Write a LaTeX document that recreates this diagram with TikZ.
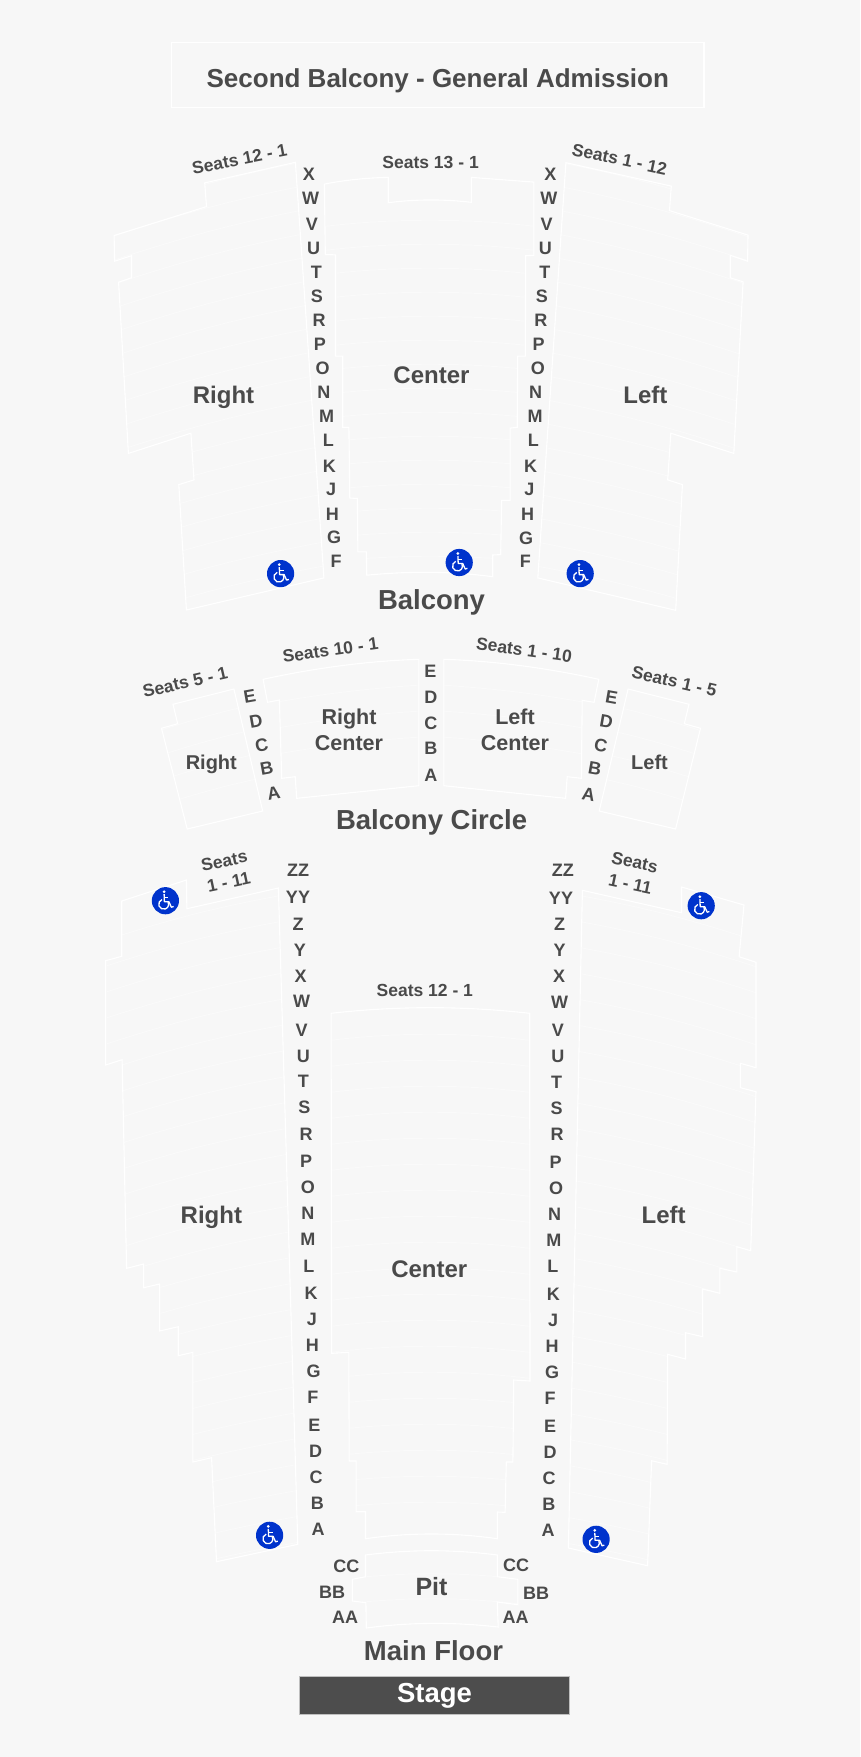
\documentclass[tikz,border=0pt]{standalone}
\usepackage{fontspec}
\setmainfont{Liberation Sans}

\definecolor{pagebg}{HTML}{F7F7F7}
\definecolor{rowcol}{HTML}{FAFAFA}
\definecolor{inkcol}{HTML}{4A4A4A}
\definecolor{stagecol}{HTML}{4D4D4D}
\definecolor{accesscol}{HTML}{0033CC}

\tikzset{
  section/.style={draw=white,line width=1.1pt,line join=miter},
  rowline/.style={draw=rowcol,line width=.9pt},
  rowlabel/.style={text=inkcol,inner sep=0pt,font=\bfseries\fontsize{18}{21}\selectfont},
  seatlabel/.style={text=inkcol,inner sep=0pt,align=center,font=\bfseries\fontsize{17.5}{22}\selectfont},
  arealabel/.style={text=inkcol,inner sep=0pt,font=\bfseries\fontsize{24}{28}\selectfont},
  circlelabel/.style={text=inkcol,inner sep=0pt,align=center,font=\bfseries\fontsize{21.5}{26}\selectfont},
  levellabel/.style={text=inkcol,inner sep=0pt,font=\bfseries\fontsize{27.5}{32}\selectfont},
  access/.pic={
    \fill[accesscol] (0,0) circle (13.6);
    \fill[white] (-1.3,-9) circle (1.5);
    \draw[white,line width=1.3pt,line join=round]
      (-1.3,-6.5) -- (-1,1) -- (3.5,1) -- (6,6.5) -- (8.2,5.8);
    \draw[white,line width=1.2pt] (-1.2,-3) -- (3,-3);
    \draw[white,line width=1.3pt] (-3.4,-1.2) arc[start angle=250,end angle=-30,radius=5];
  }
}

% section outlines
\newcommand\bRight{(295.4,162.3) -- (204.7,182.9) -- (206.5,206.6) -- (114.1,235.5) -- (114.6,261.2) -- (131.5,255.7) -- (131.5,277.8) -- (118.6,282.2) -- (128.4,453.4) -- (190.9,433.2) -- (194,479.9) -- (178.8,484.6) -- (186.4,610) -- (323.9,577.9) -- cycle}
\newcommand\bLeft{(565.9,162.7) -- (671.3,186.1) -- (669.5,210.6) -- (748,235.1) -- (747.6,261.2) -- (730.2,255.3) -- (730.2,277.8) -- (743.1,281.8) -- (733.8,453.4) -- (670.8,433.2) -- (667.7,479.9) -- (682.4,484.6) -- (675.7,610.3) -- (537.8,577.9) -- cycle}
\newcommand\bCenter{(324.4,184.1) .. controls (345,180) and (367,177.8) .. (388.2,177.4) -- (388.2,202.7) .. controls (416,199.1) and (443.6,199.1) .. (471.3,202.3) -- (471.3,177.4) -- (533.8,182.1) -- (533.8,255.3) -- (525.7,255.7) -- (525.3,356.1) -- (517.7,356.1) -- (517.2,427.3) -- (510.1,428.1) -- (510.1,500.4) -- (501.6,500.4) -- (500.7,554.6) -- (492.7,555) -- (492.7,576.7) .. controls (450.7,571.1) and (408.8,571.1) .. (366.8,575.2) -- (366.3,551.8) -- (357.9,551.8) -- (357.4,498.5) -- (349.8,498) -- (348.9,427.3) -- (342.7,427.3) -- (342.7,356.1) -- (335.5,356.1) -- (335.5,254.9) -- (325.3,254.5) -- cycle}
\newcommand\cRight{(233.9,689) -- (173,704.3) -- (177.7,723.7) -- (161.5,728.3) -- (187.2,829) -- (262.7,811) -- cycle}
\newcommand\cRightCenter{(263.1,679.3) .. controls (315,668) and (367,661) .. (418.9,659.3) -- (418.9,785.7) -- (296.7,798.3) -- (295.2,776.7) -- (281.7,778.3) -- (279.4,700) -- (267.5,702.3) -- cycle}
\newcommand\cLeftCenter{(443.8,659.3) .. controls (495.5,661) and (547,668) .. (598.8,679.3) -- (594.1,702.3) -- (582.2,700.3) -- (581.4,778.3) -- (567.2,776.7) -- (565.6,798.3) -- (443.8,785.7) -- cycle}
\newcommand\cLeft{(628.1,689) -- (689,704.3) -- (684.3,723.7) -- (700.5,728.3) -- (675.6,829) -- (599.2,811) -- cycle}
\newcommand\mRight{(278.4,888) -- (186.9,908.7) -- (186.4,880) -- (121.7,901) -- (121.7,956.3) -- (105.6,960.7) -- (105.6,1065) -- (122.1,1059.7) -- (126.6,1268.3) -- (143.6,1264) -- (143.6,1287.7) -- (159.6,1284) -- (159.6,1331) -- (178.2,1326.7) -- (178.2,1355.7) -- (192.9,1352.3) -- (192.9,1462) -- (211.6,1457.7) -- (216.5,1561.7) -- (297.8,1544.3) -- cycle}
\newcommand\mLeft{(582.4,890.3) -- (681.5,912.7) -- (681.5,887) -- (744,905) -- (739.1,956.7) -- (756,962.3) -- (756,1067.7) -- (740.4,1063.3) -- (740.4,1087.7) -- (756,1091.7) -- (750.7,1250.7) -- (736.9,1246.7) -- (736.9,1272) -- (719.9,1268.3) -- (719.9,1293.3) -- (702.5,1289) -- (702.7,1336.7) -- (685.5,1332.7) -- (685.5,1359) -- (667.6,1354.3) -- (667.1,1464.3) -- (651.6,1460.7) -- (647.6,1565.7) -- (568.4,1548) -- cycle}
\newcommand\mCenter{(331.1,1013.3) .. controls (397,1005.8) and (463,1005.8) .. (529.7,1013.3) -- (530,1381) -- (513.7,1380) -- (512.9,1462) -- (506.3,1462) -- (505.1,1512.3) -- (497.3,1512) -- (497.3,1538.7) .. controls (453.5,1532.4) and (409.5,1532.4) .. (365.5,1538.7) -- (365.5,1511.7) -- (356.1,1511.7) -- (356.1,1461) -- (349.2,1461) -- (348.8,1352.3) -- (331.6,1353.3) -- cycle}
\newcommand\mPit{(365.5,1555) .. controls (409.5,1549.3) and (453.5,1549.3) .. (497.3,1555) -- (497.3,1576.7) -- (517.8,1579.3) -- (517.8,1604.7) -- (497.3,1602) -- (498.2,1627) .. controls (454,1622) and (410.5,1622) .. (366.3,1628) -- (365.9,1602.7) -- (352.4,1601) -- (352.4,1579.3) -- (365.5,1576.7) -- cycle}

\begin{document}
\begin{tikzpicture}[x=1pt,y=-1pt]

        \useasboundingbox (0,0) rectangle (860,1757);
        \fill[pagebg] (0,0) rectangle (860,1757);

        % rows, barely lighter than the page
        \begin{scope}
          \clip \bRight;
          \foreach \y in {215,239,263,287,311,335,359,383,407,431,455,479,503,527,551,575,599,623}
            \draw[rowline] (105,\y) to[bend left=4] (340,\y-60);
        \end{scope}
        \begin{scope}
          \clip \bLeft;
          \foreach \y in {215,239,263,287,311,335,359,383,407,431,455,479,503,527,551,575,599,623}
            \draw[rowline] (755,\y) to[bend right=4] (520,\y-60);
        \end{scope}
        \begin{scope}
          \clip \bCenter;
          \foreach \y in {227,251,275,299,323,347,371,395,419,443,467,491,515,539,563}
            \draw[rowline] (320,\y) .. controls (390,\y-9) and (470,\y-9) .. (540,\y);
        \end{scope}
        \begin{scope}
          \clip \cRight;
          \foreach \y in {732,757,782,807}
            \draw[rowline] (155,\y) to[bend left=3] (275,\y-32);
        \end{scope}
        \begin{scope}
          \clip \cLeft;
          \foreach \y in {732,757,782,807}
            \draw[rowline] (705,\y) to[bend right=3] (585,\y-32);
        \end{scope}
        \begin{scope}
          \clip \cRightCenter;
          \foreach \y in {705,731,757}
            \draw[rowline] (260,\y) to[bend left=3] (420,\y-20);
        \end{scope}
        \begin{scope}
          \clip \cLeftCenter;
          \foreach \y in {705,731,757}
            \draw[rowline] (600,\y) to[bend right=3] (442,\y-20);
        \end{scope}
        \begin{scope}
          \clip \mRight;
          \foreach \y in {942,968,994,1020,1046,1072,1098,1124,1150,1176,1202,1228,1254,1280,1306,1332,1358,1384,1410,1436,1462,1488,1514,1540,1566,1592}
            \draw[rowline] (100,\y) to[bend left=4] (300,\y-50);
        \end{scope}
        \begin{scope}
          \clip \mLeft;
          \foreach \y in {942,968,994,1020,1046,1072,1098,1124,1150,1176,1202,1228,1254,1280,1306,1332,1358,1384,1410,1436,1462,1488,1514,1540,1566,1592}
            \draw[rowline] (760,\y) to[bend right=4] (560,\y-50);
        \end{scope}
        \begin{scope}
          \clip \mCenter;
          \foreach \y in {1041,1067,1093,1119,1145,1171,1197,1223,1249,1275,1301,1327,1353,1379,1405,1431,1457,1483,1509}
            \draw[rowline] (325,\y) .. controls (395,\y-9) and (465,\y-9) .. (535,\y);
        \end{scope}
        \begin{scope}
          \clip \mPit;
          \foreach \y in {1579,1604}
            \draw[rowline] (345,\y) .. controls (403,\y-7) and (461,\y-7) .. (520,\y);
        \end{scope}

        % section outlines
        \draw[section] (171.7,42.5) rectangle (704,107.8);
        \draw[section] \bRight;
        \draw[section] \bLeft;
        \draw[section] \bCenter;
        \draw[section] \cRight;
        \draw[section] \cRightCenter;
        \draw[section] \cLeftCenter;
        \draw[section] \cLeft;
        \draw[section] \mRight;
        \draw[section] \mLeft;
        \draw[section] \mCenter;
        \draw[section] \mPit;

        % stage
        \node[fill=stagecol,draw=black!25,line width=.6pt,minimum width=270pt,minimum height=37.6pt,inner sep=0pt,
              text=white,font=\bfseries\fontsize{27.5}{32}\selectfont] (stage) at (434.5,1695.5) {\raisebox{-1.2pt}{Stage}};

        % accessible seating
        \pic at (280.6,573.6) {access};
        \pic at (459.2,562.5) {access};
        \pic at (580.2,573.6) {access};
        \pic at (165.4,900.7) {access};
        \pic at (701.2,905.7) {access};
        \pic at (269.6,1535.3) {access};
        \pic at (596.1,1539.3) {access};

        \begin{scope}[every node/.style={levellabel}]
          \node (balcony) at (431.5,602.7) {Balcony};
          \node (circle)  at (431.6,822)   {Balcony Circle};
          \node (floor)   at (433.5,1650.7) {Main Floor};
          \node[font=\bfseries\fontsize{26}{30}\selectfont] (second) at (437.8,80.6) {Second Balcony - General Admission};
        \end{scope}

        \begin{scope}[every node/.style={arealabel}]
          \node (bright)  at (223.5,397.5) {Right};
          \node (bcenter) at (431.5,375.7) {Center};
          \node (bleft)   at (645.4,394.8) {Left};
          \node (mright)  at (211.4,1217.5) {Right};
          \node (mcenter) at (429.3,1269)  {Center};
          \node (mleft)   at (663.7,1214.7) {Left};
          \node[font=\bfseries\fontsize{25}{30}\selectfont] (pit) at (431.5,1586.7) {Pit};
        \end{scope}

        \begin{scope}[every node/.style={circlelabel}]
          \node (crcenter) at (349,730) {Right\\Center};
          \node (clcenter) at (515,730) {Left\\Center};
          \node[font=\bfseries\fontsize{20}{24}\selectfont] (cright) at (211.3,764.5) {Right};
          \node[font=\bfseries\fontsize{20}{24}\selectfont] (cleft)  at (649.5,762.3) {Left};
        \end{scope}

        \begin{scope}[every node/.style={seatlabel}]
          \node[rotate=11]  (s1) at (239.6,159.2) {Seats 12 - 1};
          \node             (s2) at (430.6,162.3) {Seats 13 - 1};
          \node[rotate=-12] (s3) at (619.5,159.2) {Seats 1 - 12};
          \node[rotate=13]  (s4) at (185.2,682.3) {Seats 5 - 1};
          \node[rotate=8]   (s5) at (330.4,650)   {Seats 10 - 1};
          \node[rotate=-8]  (s6) at (524.1,650)   {Seats 1 - 10};
          \node[rotate=-13] (s7) at (674.4,681.3) {Seats 1 - 5};
          \node[rotate=12]  (s8) at (226.5,871.5) {Seats\\1 - 11};
          \node[rotate=-12] (s9) at (632.5,873)   {Seats\\1 - 11};
          \node             (s10) at (424.8,990.7) {Seats 12 - 1};
        \end{scope}

        \begin{scope}[every node/.style={rowlabel}]
          % balcony, left aisle
          \node (b1)  at (308.8,174.2) {X};
          \node (b2)  at (310.5,198.3) {W};
          \node (b3)  at (311.9,224.4) {V};
          \node (b4)  at (313.7,248.5) {U};
          \node (b5)  at (316.3,272.3) {T};
          \node (b6)  at (316.8,296.4) {S};
          \node (b7)  at (319,320.5)   {R};
          \node (b8)  at (319.9,344.2) {P};
          \node (b9)  at (322.6,368.4) {O};
          \node (b10) at (323.9,392.1) {N};
          \node (b11) at (326.6,416.2) {M};
          \node (b12) at (328.4,439.9) {L};
          \node (b13) at (329.3,466)   {K};
          \node (b14) at (331.1,489.7) {J};
          \node (b15) at (332.4,513.9) {H};
          \node (b16) at (334.2,537.6) {G};
          \node (b17) at (336,561.7)   {F};
          % balcony, right aisle
          \node (b18) at (550.3,174.6) {X};
          \node (b19) at (548.9,198.7) {W};
          \node (b20) at (546.7,224.4) {V};
          \node (b21) at (545.4,248.5) {U};
          \node (b22) at (544.9,272.7) {T};
          \node (b23) at (541.8,296.4) {S};
          \node (b24) at (540.9,320.5) {R};
          \node (b25) at (538.7,344.2) {P};
          \node (b26) at (537.8,368.4) {O};
          \node (b27) at (535.5,392.5) {N};
          \node (b28) at (535.1,416.2) {M};
          \node (b29) at (533.3,440.3) {L};
          \node (b30) at (530.6,466)   {K};
          \node (b31) at (529.3,489.7) {J};
          \node (b32) at (527.5,514.3) {H};
          \node (b33) at (526.2,538)   {G};
          \node (b34) at (525.3,561.7) {F};
          % balcony circle
          \node[rotate=10] (c1) at (249.7,696)   {E};
          \node[rotate=10] (c2) at (256,721.7)   {D};
          \node[rotate=10] (c3) at (261.6,745)   {C};
          \node[rotate=10] (c4) at (266.7,768.3) {B};
          \node[rotate=10] (c5) at (273.8,793.7) {A};
          \node (c6)  at (430.4,671)   {E};
          \node (c7)  at (430.8,697)   {D};
          \node (c8)  at (430.8,723)   {C};
          \node (c9)  at (430.8,748.7) {B};
          \node (c10) at (430.8,775)   {A};
          \node[rotate=-10] (c11) at (611.5,697)   {E};
          \node[rotate=-10] (c12) at (606.4,722)   {D};
          \node[rotate=-10] (c13) at (600.8,746)   {C};
          \node[rotate=-10] (c14) at (594.9,769)   {B};
          \node[rotate=-10] (c15) at (588.6,794.7) {A};
          % main floor, left aisle
          \node (m1)  at (298,870)     {ZZ};
          \node (m2)  at (298,897.7)   {YY};
          \node (m3)  at (298,924)     {Z};
          \node (m4)  at (299.8,950)   {Y};
          \node (m5)  at (300.7,976)   {X};
          \node (m6)  at (301.6,1001.7) {W};
          \node (m7)  at (301.6,1030)  {V};
          \node (m8)  at (303.4,1056)  {U};
          \node (m9)  at (303.4,1081.7) {T};
          \node (m10) at (304.3,1107.7) {S};
          \node (m11) at (306,1134)    {R};
          \node (m12) at (306,1161.7)  {P};
          \node (m13) at (307.9,1187.7) {O};
          \node (m14) at (307.9,1213.7) {N};
          \node (m15) at (307.9,1239.3) {M};
          \node (m16) at (308.8,1266)  {L};
          \node (m17) at (311,1293.3)  {K};
          \node (m18) at (311.9,1319.7) {J};
          \node (m19) at (312.4,1345.7) {H};
          \node (m20) at (313.7,1371.7) {G};
          \node (m21) at (312.9,1397.7) {F};
          \node (m22) at (314.5,1425.7) {E};
          \node (m23) at (315.7,1451.7) {D};
          \node (m24) at (316.1,1477.7) {C};
          \node (m25) at (317.3,1503.7) {B};
          \node (m26) at (318.2,1529.7) {A};
          % main floor, right aisle
          \node (m27) at (562.8,870.7) {ZZ};
          \node (m28) at (561,898.3)   {YY};
          \node (m29) at (559.6,924.7) {Z};
          \node (m30) at (559.6,950.3) {Y};
          \node (m31) at (559.2,976.3) {X};
          \node (m32) at (559.6,1002.3) {W};
          \node (m33) at (557.9,1030.3) {V};
          \node (m34) at (557.9,1056.7) {U};
          \node (m35) at (556.5,1082.3) {T};
          \node (m36) at (556.5,1108.3) {S};
          \node (m37) at (557,1134.7)  {R};
          \node (m38) at (555.6,1162.3) {P};
          \node (m39) at (556.1,1188.3) {O};
          \node (m40) at (554.7,1214.3) {N};
          \node (m41) at (553.8,1240)  {M};
          \node (m42) at (552.9,1266.7) {L};
          \node (m43) at (553.4,1294)  {K};
          \node (m44) at (553,1320.3)  {J};
          \node (m45) at (552,1346.3)  {H};
          \node (m46) at (552,1372.3)  {G};
          \node (m47) at (550,1398.3)  {F};
          \node (m48) at (550,1426.3)  {E};
          \node (m49) at (550,1452.3)  {D};
          \node (m50) at (549.2,1478.3) {C};
          \node (m51) at (548.8,1504.3) {B};
          \node (m52) at (548,1530.3)  {A};
          % pit
          \node (p1) at (346.3,1566.7) {CC};
          \node (p2) at (332,1592.7)   {BB};
          \node (p3) at (345.1,1617.7) {AA};
          \node (p4) at (516.1,1565.7) {CC};
          \node (p5) at (536.1,1593.7) {BB};
          \node (p6) at (515.7,1617.7) {AA};
        \end{scope}

      \end{tikzpicture}
\end{document}
